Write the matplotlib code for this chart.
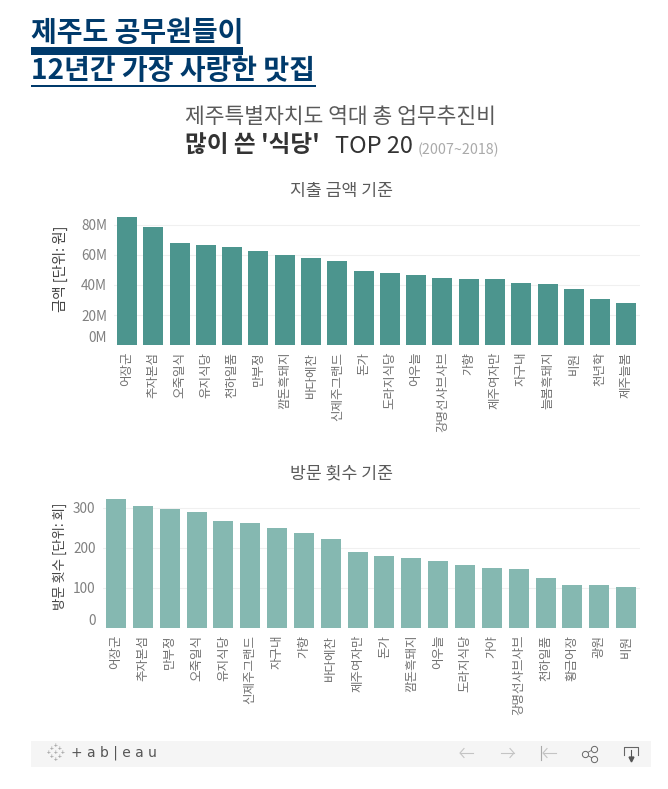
import matplotlib
matplotlib.use('Agg')
import matplotlib.pyplot as plt
from matplotlib.patches import Rectangle

plt.rcParams['font.family'] = ['Noto Sans CJK KR', 'DejaVu Sans']

W, H = 668, 789

amount_names = ['어장군', '추자본섬', '오죽일식', '유지식당', '천하일품', '만부정', '깜돈흑돼지',
                '바다에찬', '신제주그랜드', '돈가', '도라지식당', '어우늘', '강명선샤브샤브', '가향',
                '제주여자만', '자구내', '늘봄흑돼지', '비원', '천년학', '제주늘봄']
amount_values = [85.3, 78.7, 68.0, 66.7, 65.3, 62.7, 60.0, 58.0, 56.0, 49.5,
                 48.0, 46.7, 44.7, 44.0, 44.0, 41.3, 40.7, 37.3, 30.7, 28.0]
amount_ticks = [0, 20, 40, 60, 80]
amount_ticklabels = ['0M', '20M', '40M', '60M', '80M']

visit_names = ['어장군', '추자본섬', '만부정', '오죽일식', '유지식당', '신제주그랜드', '자구내',
               '가향', '바다에찬', '제주여자만', '돈가', '깜돈흑돼지', '어우늘', '도라지식당',
               '가야', '강명선샤브샤브', '천하일품', '황금어장', '광원', '비원']
visit_values = [322, 304, 297, 289, 267, 262, 249, 237, 222, 189,
                179, 174, 167, 157, 149, 147, 124, 107, 107, 102]
visit_ticks = [0, 100, 200, 300]
visit_ticklabels = ['0', '100', '200', '300']

fig = plt.figure(figsize=(W / 100, H / 100), dpi=100, facecolor='white')


def px_axes(left, top, right, bottom):
    return fig.add_axes([left / W, 1 - bottom / H, (right - left) / W, (bottom - top) / H])


def draw_bars(ax, names, values, ticks, ticklabels, color, width, ymax):
    ax.bar(range(len(names)), values, width=width, color=color, zorder=3)
    ax.set_xlim(-0.5, len(names) - 0.5)
    ax.set_ylim(0, ymax)
    ax.set_xticks(range(len(names)))
    ax.set_xticklabels(names, rotation=90, fontsize=9, color='#707070')
    ax.set_yticks(ticks)
    ax.set_yticklabels(ticklabels, fontsize=9.8, color='#808080')
    ax.yaxis.get_ticklabels()[0].set_va('bottom')
    ax.tick_params(length=0, pad=5)
    ax.grid(axis='y', color='#f0f0f0', lw=0.8, zorder=0)
    for s in ax.spines.values():
        s.set_visible(False)


ax1 = px_axes(113.9, 212, 639.5, 345)
draw_bars(ax1, amount_names, amount_values, amount_ticks, amount_ticklabels, '#4c958e', 0.76, 133 / 1.5)

ax2 = px_axes(102.6, 495, 639.5, 627.7)
draw_bars(ax2, visit_names, visit_values, visit_ticks, visit_ticklabels, '#85b8b1', 0.745, 132.7 / 0.4)

# overlay in pixel coordinates for headings and the footer
ov = fig.add_axes([0, 0, 1, 1], zorder=5)
ov.set_xlim(0, W)
ov.set_ylim(H, 0)
ov.axis('off')
ov.patch.set_alpha(0)

navy = '#003a6b'
ov.text(31, 33, '제주도 공무원들이', fontsize=20.2, fontweight='bold', color=navy, va='center')
ov.add_patch(Rectangle((31, 47), 212, 7.5, color=navy, lw=0))
ov.text(31, 71, '12년간 가장 사랑한 맛집', fontsize=20.2, fontweight='bold', color=navy, va='center')
ov.add_patch(Rectangle((31, 85), 285, 2, color=navy, lw=0))

ov.text(185, 117, '제주특별자치도 역대 총 업무추진비', fontsize=15.5, color='#5a5a5a', va='center')
ov.text(185, 146, "많이 쓴 '식당'", fontsize=17, fontweight='bold', color='#333333', va='center')
ov.text(335, 146, 'TOP 20', fontsize=17, color='#333333', va='center')
ov.text(418, 150, '(2007~2018)', fontsize=10.3, color='#aaaaaa', va='center')

ov.text(341, 191, '지출 금액 기준', fontsize=12.4, color='#5a5a5a', va='center', ha='center')
ov.text(341, 473, '방문 횟수 기준', fontsize=12.4, color='#5a5a5a', va='center', ha='center')
ov.text(60, 269, '금액 [단위: 원]', fontsize=10.4, color='#444444', rotation=90, va='center', ha='center')
ov.text(60, 556, '방문 횟수 [단위: 회]', fontsize=9.6, color='#444444', rotation=90, va='center', ha='center')

# tableau footer
ov.add_patch(Rectangle((31, 741), 620, 26, color='#f5f5f5', lw=0))
for dx, dy in [(0, -7), (0, 7), (-7, 0), (7, 0), (-4, -4), (4, -4), (-4, 4), (4, 4), (0, 0)]:
    ov.text(56 + dx, 753 + dy, '+', fontsize=5, color='#888888', ha='center', va='center')
ov.text(71, 753, '+ a b | e a u', fontsize=10, color='#555555', va='center', family='DejaVu Sans')

arrow = '#c4c4c4'
for x0, x1 in [(473, 460), (501, 514), (556, 543)]:
    d = 4 if x1 < x0 else -4
    ov.plot([x0, x1], [753, 753], color=arrow, lw=0.8)
    ov.plot([x1 + d, x1, x1 + d], [748.5, 753, 757.5], color=arrow, lw=0.8)
ov.plot([541, 541], [746, 760], color='#aaaaaa', lw=0.8)
for cx, cy in [(585, 754), (594, 749), (594, 759)]:
    ov.plot([cx], [cy], 'o', mfc='#f5f5f5', mec='#666666', ms=4.5, mew=0.7, zorder=4)
ov.plot([594, 585, 594], [749, 754, 759], color='#666666', lw=0.6)
ov.plot([624, 624, 638, 638], [755, 747, 747, 755], color='#666666', lw=0.8)
ov.plot([631, 631], [750, 758], color='#555555', lw=0.8)
ov.plot([631], [759], 'v', color='#555555', ms=3.5)

fig.savefig('out.png', dpi=100)
